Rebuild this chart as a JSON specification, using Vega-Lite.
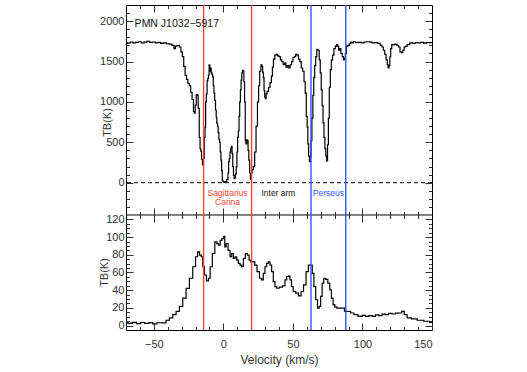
{
  "$schema": "https://vega.github.io/schema/vega-lite/v6.json",
  "autosize": {"type": "none"},
  "width": 306,
  "height": 325,
  "padding": {"left": 126, "top": 5, "right": 95, "bottom": 42},
  "background": "white",
  "config": {
    "view": {"stroke": "black", "strokeWidth": 1},
    "font": "Liberation Sans",
    "axis": {"grid": false, "domain": false, "labelFont": "Liberation Sans", "labelFontSize": 11, "labelColor": "#333", "tickColor": "#333", "titleFont": "Liberation Sans", "titleFontWeight": "normal", "titleFontSize": 12, "titleColor": "#333", "format": "d"},
    "axisX": {"labelPadding": 15},
    "axisY": {"labelPadding": 9}
  },
  "datasets": {
    "top": [
      {"v": -70, "T": 1735}, {"v": -68, "T": 1728}, {"v": -66, "T": 1742}, {"v": -64, "T": 1730}, {"v": -62, "T": 1738}, {"v": -60, "T": 1745}, {"v": -58, "T": 1732}, {"v": -56, "T": 1740}, {"v": -54, "T": 1750}, {"v": -52, "T": 1738}, {"v": -50, "T": 1742}, {"v": -48, "T": 1730}, {"v": -46, "T": 1738}, {"v": -44, "T": 1725}, {"v": -42, "T": 1732}, {"v": -40, "T": 1720}, {"v": -38, "T": 1715}, {"v": -36, "T": 1700}, {"v": -35, "T": 1660}, {"v": -34, "T": 1690}, {"v": -32.5, "T": 1700}, {"v": -31, "T": 1680}, {"v": -30, "T": 1620}, {"v": -29, "T": 1560}, {"v": -28, "T": 1440}, {"v": -27, "T": 1330}, {"v": -26, "T": 1280}, {"v": -25, "T": 1230}, {"v": -24, "T": 1200}, {"v": -23, "T": 1120}, {"v": -22, "T": 1030}, {"v": -21, "T": 880}, {"v": -20.5, "T": 860}, {"v": -20, "T": 960}, {"v": -19, "T": 1090}, {"v": -18.5, "T": 1080}, {"v": -17.7, "T": 920}, {"v": -17, "T": 560}, {"v": -16.5, "T": 420}, {"v": -16, "T": 390}, {"v": -15.4, "T": 290}, {"v": -14.6, "T": 220}, {"v": -14, "T": 300}, {"v": -13.4, "T": 560}, {"v": -13, "T": 680}, {"v": -12.5, "T": 1000}, {"v": -12, "T": 1100}, {"v": -11.4, "T": 1260}, {"v": -11, "T": 1290}, {"v": -10.5, "T": 1330}, {"v": -10, "T": 1460}, {"v": -9.5, "T": 1380}, {"v": -9, "T": 1420}, {"v": -8.5, "T": 1360}, {"v": -8, "T": 1340}, {"v": -7.5, "T": 1310}, {"v": -7, "T": 1200}, {"v": -6.5, "T": 1110}, {"v": -6, "T": 1020}, {"v": -5.3, "T": 900}, {"v": -5, "T": 810}, {"v": -4.5, "T": 740}, {"v": -4, "T": 700}, {"v": -3.5, "T": 620}, {"v": -3, "T": 540}, {"v": -2.5, "T": 500}, {"v": -2, "T": 380}, {"v": -1.5, "T": 280}, {"v": -1, "T": 150}, {"v": -0.5, "T": 30}, {"v": 0, "T": 10}, {"v": 1, "T": 5}, {"v": 2, "T": 15}, {"v": 3, "T": 40}, {"v": 3.6, "T": 120}, {"v": 4, "T": 260}, {"v": 4.5, "T": 300}, {"v": 5, "T": 380}, {"v": 5.5, "T": 420}, {"v": 6, "T": 450}, {"v": 6.5, "T": 360}, {"v": 7, "T": 200}, {"v": 7.5, "T": 90}, {"v": 8, "T": 50}, {"v": 8.5, "T": 60}, {"v": 9, "T": 110}, {"v": 9.5, "T": 200}, {"v": 10, "T": 380}, {"v": 10.5, "T": 560}, {"v": 11, "T": 640}, {"v": 11.5, "T": 820}, {"v": 12, "T": 1000}, {"v": 12.5, "T": 1150}, {"v": 13, "T": 1270}, {"v": 13.5, "T": 1360}, {"v": 14, "T": 1390}, {"v": 14.5, "T": 1380}, {"v": 15, "T": 1250}, {"v": 15.5, "T": 1000}, {"v": 16, "T": 520}, {"v": 16.5, "T": 480}, {"v": 17, "T": 530}, {"v": 17.5, "T": 520}, {"v": 18, "T": 400}, {"v": 18.6, "T": 280}, {"v": 19.2, "T": 120}, {"v": 19.8, "T": 40}, {"v": 20.5, "T": 120}, {"v": 21, "T": 160}, {"v": 22, "T": 200}, {"v": 23, "T": 380}, {"v": 24, "T": 700}, {"v": 25, "T": 1000}, {"v": 25.7, "T": 1200}, {"v": 26.5, "T": 1380}, {"v": 27.5, "T": 1460}, {"v": 28, "T": 1440}, {"v": 28.5, "T": 1370}, {"v": 29, "T": 1300}, {"v": 29.5, "T": 1140}, {"v": 30, "T": 1060}, {"v": 30.5, "T": 1040}, {"v": 31, "T": 1100}, {"v": 32, "T": 1130}, {"v": 33, "T": 1180}, {"v": 34, "T": 1240}, {"v": 35, "T": 1320}, {"v": 35.5, "T": 1430}, {"v": 36.5, "T": 1530}, {"v": 37.5, "T": 1580}, {"v": 38.5, "T": 1590}, {"v": 39.5, "T": 1570}, {"v": 40.5, "T": 1560}, {"v": 41.5, "T": 1520}, {"v": 42.5, "T": 1500}, {"v": 43.5, "T": 1460}, {"v": 44.5, "T": 1480}, {"v": 45.5, "T": 1430}, {"v": 46.5, "T": 1450}, {"v": 47.5, "T": 1420}, {"v": 48.5, "T": 1460}, {"v": 49.5, "T": 1500}, {"v": 50.5, "T": 1550}, {"v": 51.5, "T": 1560}, {"v": 52.5, "T": 1590}, {"v": 53.5, "T": 1580}, {"v": 54.5, "T": 1530}, {"v": 55.5, "T": 1500}, {"v": 56.5, "T": 1420}, {"v": 57.5, "T": 1380}, {"v": 58.5, "T": 1250}, {"v": 59.2, "T": 1110}, {"v": 60, "T": 820}, {"v": 60.5, "T": 690}, {"v": 61, "T": 480}, {"v": 61.6, "T": 330}, {"v": 62.2, "T": 260}, {"v": 62.8, "T": 330}, {"v": 63.3, "T": 520}, {"v": 64, "T": 800}, {"v": 64.7, "T": 1080}, {"v": 65.3, "T": 1300}, {"v": 66, "T": 1450}, {"v": 66.8, "T": 1560}, {"v": 67.5, "T": 1650}, {"v": 68.5, "T": 1640}, {"v": 69.3, "T": 1520}, {"v": 70, "T": 1360}, {"v": 70.7, "T": 1150}, {"v": 71.3, "T": 950}, {"v": 72, "T": 740}, {"v": 72.7, "T": 560}, {"v": 73.3, "T": 420}, {"v": 74, "T": 330}, {"v": 74.6, "T": 270}, {"v": 75.2, "T": 470}, {"v": 75.8, "T": 800}, {"v": 76.5, "T": 1180}, {"v": 77.3, "T": 1400}, {"v": 78, "T": 1520}, {"v": 79, "T": 1580}, {"v": 80, "T": 1660}, {"v": 81, "T": 1690}, {"v": 81.8, "T": 1710}, {"v": 82.5, "T": 1690}, {"v": 83.3, "T": 1640}, {"v": 84, "T": 1660}, {"v": 85, "T": 1600}, {"v": 86, "T": 1560}, {"v": 86.6, "T": 1520}, {"v": 87.3, "T": 1540}, {"v": 88, "T": 1600}, {"v": 89, "T": 1690}, {"v": 90, "T": 1700}, {"v": 91, "T": 1720}, {"v": 92, "T": 1740}, {"v": 93, "T": 1730}, {"v": 94, "T": 1745}, {"v": 96, "T": 1735}, {"v": 98, "T": 1738}, {"v": 100, "T": 1730}, {"v": 102, "T": 1742}, {"v": 104, "T": 1745}, {"v": 106, "T": 1740}, {"v": 108, "T": 1730}, {"v": 110, "T": 1735}, {"v": 112, "T": 1725}, {"v": 113.5, "T": 1700}, {"v": 114.5, "T": 1680}, {"v": 115.5, "T": 1640}, {"v": 116.5, "T": 1590}, {"v": 117.5, "T": 1520}, {"v": 118.2, "T": 1460}, {"v": 118.8, "T": 1420}, {"v": 119.4, "T": 1450}, {"v": 120, "T": 1560}, {"v": 120.6, "T": 1660}, {"v": 121.5, "T": 1710}, {"v": 122.5, "T": 1705}, {"v": 124, "T": 1715}, {"v": 125.5, "T": 1700}, {"v": 126.5, "T": 1680}, {"v": 127.5, "T": 1620}, {"v": 128.5, "T": 1610}, {"v": 129.5, "T": 1640}, {"v": 130.5, "T": 1680}, {"v": 131.5, "T": 1690}, {"v": 133, "T": 1710}, {"v": 135, "T": 1730}, {"v": 137, "T": 1725}, {"v": 139, "T": 1735}, {"v": 141, "T": 1730}, {"v": 143, "T": 1738}, {"v": 145, "T": 1728}, {"v": 147, "T": 1735}, {"v": 150, "T": 1735}
    ],
    "bot": [
      {"v": -70, "T": 3}, {"v": -67, "T": 2.5}, {"v": -64, "T": 3.7}, {"v": -61, "T": 2.2}, {"v": -58, "T": 3.5}, {"v": -55, "T": 2.6}, {"v": -52, "T": 3.4}, {"v": -49.5, "T": 2}, {"v": -46, "T": 3.2}, {"v": -42.4, "T": 3}, {"v": -40, "T": 6}, {"v": -37.6, "T": 8.6}, {"v": -35.2, "T": 12.3}, {"v": -32.8, "T": 16}, {"v": -30.4, "T": 21.7}, {"v": -28, "T": 31}, {"v": -25.6, "T": 42}, {"v": -23.2, "T": 53.5}, {"v": -20.8, "T": 66.5}, {"v": -19.2, "T": 77.8}, {"v": -17.7, "T": 83.4}, {"v": -16.5, "T": 79.6}, {"v": -15.4, "T": 77.8}, {"v": -14.2, "T": 66.5}, {"v": -13, "T": 57.2}, {"v": -11.3, "T": 50.5}, {"v": -10.1, "T": 53.5}, {"v": -8.9, "T": 66.5}, {"v": -7, "T": 81.5}, {"v": -5.3, "T": 94.6}, {"v": -4.1, "T": 92.7}, {"v": -2.9, "T": 90.8}, {"v": -1.7, "T": 96.4}, {"v": -0.5, "T": 98.3}, {"v": 0.66, "T": 100.9}, {"v": 1.4, "T": 89}, {"v": 2.6, "T": 92.7}, {"v": 4.2, "T": 85}, {"v": 5.4, "T": 77.8}, {"v": 6.6, "T": 81.5}, {"v": 7.8, "T": 75.9}, {"v": 9, "T": 77.8}, {"v": 10.2, "T": 74}, {"v": 11.4, "T": 70.3}, {"v": 12.6, "T": 68.4}, {"v": 13.8, "T": 66.5}, {"v": 15, "T": 75.9}, {"v": 16.7, "T": 81.5}, {"v": 17.9, "T": 79.6}, {"v": 19.1, "T": 74}, {"v": 20.3, "T": 72.1}, {"v": 21.7, "T": 72.1}, {"v": 23.4, "T": 68.4}, {"v": 25, "T": 60.9}, {"v": 26.9, "T": 53.5}, {"v": 28.1, "T": 51.6}, {"v": 29.3, "T": 59}, {"v": 30.5, "T": 66.5}, {"v": 31.7, "T": 70.3}, {"v": 32.9, "T": 72.1}, {"v": 34.1, "T": 68.4}, {"v": 35.3, "T": 60.9}, {"v": 36.5, "T": 49.7}, {"v": 37.7, "T": 44.1}, {"v": 38.9, "T": 42.2}, {"v": 41.3, "T": 43.4}, {"v": 43.7, "T": 44.9}, {"v": 44.9, "T": 51.6}, {"v": 46.1, "T": 55.3}, {"v": 47.3, "T": 56}, {"v": 48.4, "T": 51.6}, {"v": 49.6, "T": 44.1}, {"v": 50.8, "T": 38.5}, {"v": 53.2, "T": 36.6}, {"v": 54.9, "T": 33.6}, {"v": 56.8, "T": 38.5}, {"v": 58.5, "T": 46}, {"v": 60.4, "T": 60.9}, {"v": 61.8, "T": 68.4}, {"v": 63.3, "T": 68.4}, {"v": 64.5, "T": 59}, {"v": 65.7, "T": 44.1}, {"v": 67.1, "T": 29.2}, {"v": 68.3, "T": 19.8}, {"v": 69.5, "T": 21.7}, {"v": 70.4, "T": 32.9}, {"v": 71.6, "T": 47.9}, {"v": 72.8, "T": 53.5}, {"v": 74.3, "T": 52.3}, {"v": 75.9, "T": 47.9}, {"v": 77.1, "T": 40.4}, {"v": 78.3, "T": 31}, {"v": 79.5, "T": 23.6}, {"v": 80.7, "T": 20.9}, {"v": 82.4, "T": 19.8}, {"v": 84.3, "T": 19.8}, {"v": 86.2, "T": 19.8}, {"v": 87.9, "T": 16}, {"v": 90.3, "T": 16}, {"v": 92.7, "T": 14.2}, {"v": 95, "T": 12.3}, {"v": 98.6, "T": 10.5}, {"v": 101, "T": 11.5}, {"v": 103.4, "T": 10.5}, {"v": 106, "T": 11.2}, {"v": 108.2, "T": 10.5}, {"v": 110.5, "T": 12}, {"v": 112.9, "T": 11.2}, {"v": 115.3, "T": 13}, {"v": 117.7, "T": 12.3}, {"v": 120, "T": 13.8}, {"v": 122.5, "T": 13.1}, {"v": 125, "T": 14}, {"v": 127.3, "T": 14.2}, {"v": 129.2, "T": 16}, {"v": 130.9, "T": 12.3}, {"v": 133.3, "T": 8.6}, {"v": 136.9, "T": 7.5}, {"v": 141.7, "T": 6}, {"v": 146.5, "T": 4.9}, {"v": 150, "T": 3.7}
    ],
    "arms": [
      {"v": -14.2, "arm": "Sagittarius-Carina"},
      {"v": 20.3, "arm": "Sagittarius-Carina"},
      {"v": 63, "arm": "Perseus"},
      {"v": 88, "arm": "Perseus"}
    ],
    "labels": [
      {"v": 3, "T": -122, "text": "Sagittarius", "arm": "Sagittarius-Carina"},
      {"v": 3, "T": -242, "text": "Carina", "arm": "Sagittarius-Carina"},
      {"v": 39.6, "T": -122, "text": "Inter arm", "arm": "Inter arm"},
      {"v": 75.5, "T": -122, "text": "Perseus", "arm": "Perseus"}
    ],
    "source": [
      {"v": -63.8, "T": 1967, "text": "PMN J1032\u22125917"}
    ]
  },
  "resolve": {"scale": {"y": "independent"}, "axis": {"x": "independent", "y": "independent"}},
  "layer": [
    {
      "data": {"name": "top"},
      "mark": {"type": "line", "color": "black", "strokeWidth": 1.2, "interpolate": "step"},
      "encoding": {
        "x": {"field": "v", "type": "quantitative", "scale": {"domain": [-70, 150], "nice": false, "zero": false},
              "axis": {"orient": "bottom", "title": "Velocity (km/s)", "titleX": 153, "titleY": 29, "titleBaseline": "middle", "titleAlign": "center",
                       "values": [-60, -50, -40, -30, -20, -10, 0, 10, 20, 30, 40, 50, 60, 70, 80, 90, 100, 110, 120, 130, 140, 150],
                       "labelExpr": "datum.value % 50 === 0 ? datum.label : ''",
                       "tickSize": {"condition": {"test": "datum.value % 50 === 0", "value": -7}, "value": -3.5}}},
        "y": {"field": "T", "type": "quantitative", "scale": {"domain": [-1823.81, 2200], "nice": false, "zero": false},
              "axis": {"orient": "left", "title": "TB(K)", "titleFontSize": 11, "titleX": -19, "titleY": 117, "titleAngle": -90, "titleBaseline": "middle", "titleAlign": "center",
                       "values": [-300, -200, -100, 0, 100, 200, 300, 400, 500, 600, 700, 800, 900, 1000, 1100, 1200, 1300, 1400, 1500, 1600, 1700, 1800, 1900, 2000, 2100],
                       "labelExpr": "datum.value % 500 === 0 && datum.value >= 0 ? datum.label : ''",
                       "tickSize": {"condition": {"test": "datum.value % 500 === 0", "value": -7}, "value": -3.5}}}
      }
    },
    {
      "data": {"name": "top"},
      "mark": {"type": "line", "strokeOpacity": 0},
      "encoding": {
        "x": {"field": "v", "type": "quantitative",
              "axis": {"orient": "top", "title": null, "labels": false, "values": [-60, -50, -40, -30, -20, -10, 0, 10, 20, 30, 40, 50, 60, 70, 80, 90, 100, 110, 120, 130, 140],
                       "tickSize": {"condition": {"test": "datum.value % 50 === 0", "value": -7}, "value": -3.5}}},
        "y": {"field": "T", "type": "quantitative", "scale": {"domain": [-1823.81, 2200], "nice": false, "zero": false},
              "axis": {"orient": "right", "title": null, "labels": false,
                       "values": [-300, -200, -100, 0, 100, 200, 300, 400, 500, 600, 700, 800, 900, 1000, 1100, 1200, 1300, 1400, 1500, 1600, 1700, 1800, 1900, 2000, 2100],
                       "tickSize": {"condition": {"test": "datum.value % 500 === 0", "value": -7}, "value": -3.5}}}
      }
    },
    {
      "data": {"name": "bot"},
      "mark": {"type": "line", "color": "black", "strokeWidth": 1.2, "interpolate": "step"},
      "encoding": {
        "x": {"field": "v", "type": "quantitative",
              "axis": {"orient": "bottom", "offset": -115, "title": null, "labels": false, "values": [-60, -50, -40, -30, -20, -10, 0, 10, 20, 30, 40, 50, 60, 70, 80, 90, 100, 110, 120, 130, 140],
                       "tickSize": {"condition": {"test": "datum.value % 50 === 0", "value": -7}, "value": -3.5}}},
        "y": {"field": "T", "type": "quantitative", "scale": {"domain": [-5, 362.39], "nice": false, "zero": false},
              "axis": {"orient": "left", "title": "TB(K)", "titleFontSize": 11, "titleX": -22, "titleY": 267, "titleAngle": -90, "titleBaseline": "middle", "titleAlign": "center",
                       "values": [0, 5, 10, 15, 20, 25, 30, 35, 40, 45, 50, 55, 60, 65, 70, 75, 80, 85, 90, 95, 100, 105, 110, 115, 120],
                       "labelExpr": "datum.value % 20 === 0 ? datum.label : ''",
                       "tickSize": {"condition": {"test": "datum.value % 20 === 0", "value": -7}, "value": -3.5}}}
      }
    },
    {
      "data": {"name": "bot"},
      "mark": {"type": "line", "strokeOpacity": 0},
      "encoding": {
        "x": {"field": "v", "type": "quantitative",
              "axis": {"orient": "top", "offset": -210, "title": null, "labels": false, "values": [-60, -50, -40, -30, -20, -10, 0, 10, 20, 30, 40, 50, 60, 70, 80, 90, 100, 110, 120, 130, 140],
                       "tickSize": {"condition": {"test": "datum.value % 50 === 0", "value": -7}, "value": -3.5}}},
        "y": {"field": "T", "type": "quantitative", "scale": {"domain": [-5, 362.39], "nice": false, "zero": false},
              "axis": {"orient": "right", "title": null, "labels": false,
                       "values": [0, 5, 10, 15, 20, 25, 30, 35, 40, 45, 50, 55, 60, 65, 70, 75, 80, 85, 90, 95, 100, 105, 110, 115, 120],
                       "tickSize": {"condition": {"test": "datum.value % 20 === 0", "value": -7}, "value": -3.5}}}
      }
    },
    {
      "data": {"values": [{"edge": 125}]},
      "mark": {"type": "rule", "color": "black", "strokeWidth": 1},
      "encoding": {"y": {"field": "edge", "type": "quantitative", "scale": {"domain": [-5, 362.39], "nice": false, "zero": false}, "axis": null}}
    },
    {
      "data": {"values": [{"zero": 0}]},
      "mark": {"type": "rule", "color": "black", "strokeDash": [4, 3], "strokeWidth": 1},
      "encoding": {"y": {"field": "zero", "type": "quantitative", "scale": {"domain": [-1823.81, 2200], "nice": false, "zero": false}, "axis": null}}
    },
    {
      "data": {"name": "arms"},
      "mark": {"type": "rule", "strokeWidth": 1.4},
      "encoding": {
        "x": {"field": "v", "type": "quantitative", "axis": null},
        "color": {"field": "arm", "type": "nominal", "legend": null,
                  "scale": {"domain": ["Sagittarius-Carina", "Inter arm", "Perseus"], "range": ["#ff4433", "#111111", "#3355ff"]}}
      }
    },
    {
      "data": {"name": "labels"},
      "mark": {"type": "text", "fontSize": 8.5, "align": "center", "baseline": "middle"},
      "encoding": {
        "x": {"field": "v", "type": "quantitative", "axis": null},
        "y": {"field": "T", "type": "quantitative", "scale": {"domain": [-1823.81, 2200], "nice": false, "zero": false}, "axis": null},
        "text": {"field": "text"},
        "color": {"field": "arm", "type": "nominal", "legend": null,
                  "scale": {"domain": ["Sagittarius-Carina", "Inter arm", "Perseus"], "range": ["#ff4433", "#111111", "#3355ff"]}}
      }
    },
    {
      "data": {"name": "source"},
      "mark": {"type": "text", "fontSize": 10.5, "align": "left", "baseline": "middle", "color": "#111"},
      "encoding": {
        "x": {"field": "v", "type": "quantitative", "axis": null},
        "y": {"field": "T", "type": "quantitative", "scale": {"domain": [-1823.81, 2200], "nice": false, "zero": false}, "axis": null},
        "text": {"field": "text"}
      }
    }
  ]
}
